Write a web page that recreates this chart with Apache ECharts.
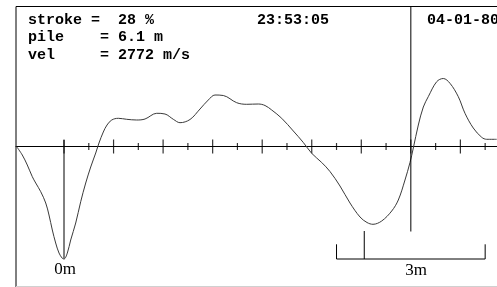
<!DOCTYPE html>
<html>
<head>
<meta charset="utf-8">
<script src="https://cdn.jsdelivr.net/npm/echarts@6/dist/echarts.min.js"></script>
<style>
  html, body { margin: 0; padding: 0; background: #fff; }
  #chart { width: 497px; height: 287px; }
</style>
</head>
<body>
<div id="chart"></div>
<script>
// pile position along the trace, in metres (0m at the first trough)
var traceX = [-0.959, -0.842, -0.741, -0.640, -0.571, -0.470, -0.369, -0.303, -0.236, -0.168,
  -0.101, -0.034, 0, 0.067, 0.135, 0.236, 0.337, 0.438, 0.539, 0.640,
  0.706, 0.793, 0.868, 0.963, 1.096, 1.265, 1.467, 1.635, 1.871, 2.038,
  2.206, 2.341, 2.543, 2.745, 2.912, 3.047, 3.215, 3.485, 3.687, 3.921,
  4.057, 4.192, 4.394, 4.628, 4.830, 4.999, 5.201, 5.368, 5.570, 5.772,
  5.974, 6.115, 6.236, 6.412, 6.614, 6.747, 6.882, 6.983, 7.050, 7.151,
  7.252, 7.352, 7.522, 7.655, 7.790, 7.958, 8.093, 8.260, 8.430, 8.531, 8.733];
// signal amplitude (arbitrary units)
var traceY = [0, -8.5, -18.5, -30.2, -36.5, -45.2, -56.5, -68.5, -83.5, -96.5,
  -106.5, -111.8, -112.5, -106.5, -93.5, -76.5, -55.2, -36.5, -20.5, -6.5,
  3.5, 14.5, 21.5, 26.5, 28.2, 27.2, 26.5, 27.5, 33.2, 32.5,
  27.2, 23.8, 27, 37.5, 46.5, 51.5, 51, 43.8, 42.2, 42.5,
  41, 36.5, 28.2, 15.5, 4, -6.8, -16, -25, -39.5, -56.5,
  -70.5, -76, -77.8, -74.5, -64.5, -53.5, -33.5, -16, -1.5, 21.5,
  39.5, 49.8, 64.8, 68, 63.2, 49.8, 33.2, 18.5, 9.2, 7.2, 7.2];

var majorTicks = [0, 1, 2, 3, 4, 5, 6, 7, 8];
var minorTicks = [0.5, 1.5, 2.5, 3.5, 4.5, 5.5, 6.5, 7.5, 8.5];

// markers: 0m line, toe line, 3m scale bracket
var zeroLine = [[0, 6.5], [0, -112]];
var toeLine = [[7, 139.5], [7, -85]];
var bracket = [[5.5, -97.8], [5.5, -112.5], [8.5, -112.5], [8.5, -97.8]];
var bracketMid = [[6.06, -84.5], [6.06, -112.5]];

var headerLines = ['stroke =  28 %', 'pile    = 6.1 m', 'vel     = 2772 m/s'];
var timeText = '23:53:05';
var dateText = '04-01-80';

var chart = echarts.init(document.getElementById('chart'));

var monoFont = 'bold 15px "Liberation Mono", monospace';

var graphics = [
  { type: 'polyline', shape: { points: [[16, 287], [16, 6.5], [497, 6.5]] },
    style: { stroke: '#000', lineWidth: 1, fill: null }, silent: true },
  { type: 'line', shape: { x1: 16, y1: 286.5, x2: 497, y2: 286.5 },
    style: { stroke: '#d0d0d0', lineWidth: 1 }, silent: true },
  { type: 'text', x: 257, y: 20, style: { text: timeText, font: monoFont, fill: '#000', verticalAlign: 'middle' } },
  { type: 'text', x: 427, y: 20, style: { text: dateText, font: monoFont, fill: '#000', verticalAlign: 'middle' } },
  { type: 'text', x: 65, y: 270, style: { text: '0m', font: '17px "Liberation Serif", serif', fill: '#000', align: 'center', verticalAlign: 'middle' } },
  { type: 'text', x: 416, y: 271, style: { text: '3m', font: '17px "Liberation Serif", serif', fill: '#000', align: 'center', verticalAlign: 'middle' } }
];
headerLines.forEach(function (t, i) {
  graphics.push({ type: 'text', x: 28, y: 20 + i * 17.5,
    style: { text: t, font: monoFont, fill: '#000', verticalAlign: 'middle' } });
});

function lineSeries(data, color) {
  return {
    type: 'line', data: data, symbol: 'none', silent: true,
    lineStyle: { color: color || '#000', width: 1 }
  };
}

chart.setOption({
  animation: false,
  grid: { left: 16, top: 7, width: 481, height: 280 },
  xAxis: {
    type: 'value', min: -0.969, max: 8.739,
    axisLine: { onZero: true, lineStyle: { color: '#000', width: 1 } },
    axisTick: { show: false }, axisLabel: { show: false }, splitLine: { show: false }
  },
  yAxis: { type: 'value', min: -140.5, max: 139.5, show: false },
  series: [
    {
      type: 'line', symbol: 'none', smooth: 0.35, silent: true,
      data: traceX.map(function (x, i) { return [x, traceY[i]]; }),
      lineStyle: { color: '#3a3a3a', width: 1 }
    },
    lineSeries(zeroLine),
    lineSeries(toeLine),
    lineSeries(bracket),
    lineSeries(bracketMid),
    {
      type: 'scatter', silent: true, symbol: 'rect', symbolSize: [1.2, 14],
      itemStyle: { color: '#000' },
      data: majorTicks.map(function (x) { return [x, 0]; })
    },
    {
      type: 'scatter', silent: true, symbol: 'rect', symbolSize: [1.2, 7],
      itemStyle: { color: '#000' },
      data: minorTicks.map(function (x) { return [x, 0]; })
    }
  ],
  graphic: graphics
});
</script>
</body>
</html>
